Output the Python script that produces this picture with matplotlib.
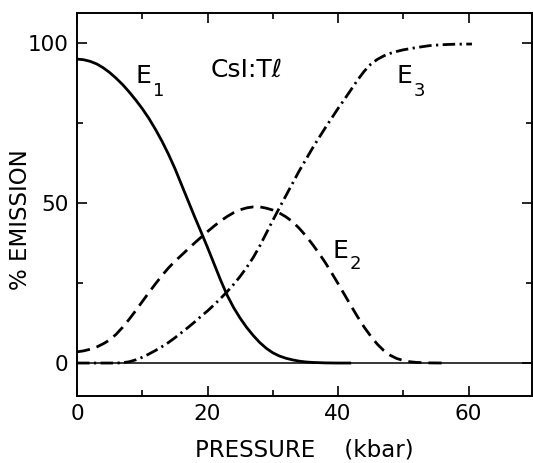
import matplotlib
matplotlib.use("Agg")
import matplotlib.pyplot as plt
from matplotlib.ticker import MultipleLocator

# Data (pressure in kbar, % emission)
p_e1 = [0, 1, 2, 3, 4, 5, 6, 7, 8, 9, 10, 11, 12, 13, 14, 15, 16, 17, 18, 19, 20,
        21, 22, 23, 24, 25, 26, 27, 28, 29, 30, 31, 32, 33, 34, 35, 36, 38, 40, 42]
e1 = [95, 94.8, 94.3, 93.5, 92.3, 90.8, 89, 87, 84.7, 82.2, 79.5, 76.5, 73.1, 69.4,
      65.3, 60.8, 55.8, 50.8, 45.8, 41, 36.1, 31, 25.9, 21.2, 17.3, 14.0, 11.1, 8.6,
      6.4, 4.6, 3.2, 2.2, 1.5, 1.0, 0.6, 0.35, 0.2, 0.05, 0, 0]

p_e2 = [0, 1, 2, 3, 4, 5, 6, 7, 8, 9, 10, 11, 12, 13, 14, 15, 16, 17, 18, 19, 20,
        21, 22, 23, 24, 25, 26, 27, 28, 29, 30, 31, 32, 33, 34, 35, 36, 37, 38, 39,
        40, 41, 42, 43, 44, 45, 46, 47, 48, 49, 50, 51, 52, 54, 56]
e2 = [3.5, 3.8, 4.3, 5, 6, 7.2, 9, 11.2, 13.7, 16.4, 19.2, 22.0, 24.7, 27.3, 29.7,
      31.8, 33.7, 35.6, 37.5, 39.3, 41.1, 42.8, 44.4, 45.8, 47, 47.9, 48.5, 48.8,
      48.8, 48.4, 47.8, 46.9, 45.7, 44.2, 42.2, 39.9, 37.3, 34.5, 31.5, 28.2, 24.8,
      21.3, 17.8, 14.4, 11.2, 8.4, 5.9, 3.9, 2.4, 1.4, 0.8, 0.4, 0.2, 0.05, 0]

p_e3 = [0, 2, 4, 6, 7, 8, 9, 10, 11, 12, 13, 14, 15, 16, 17, 18, 19, 20, 21, 22, 23,
        24, 25, 26, 27, 28, 29, 30, 31, 32, 33, 34, 35, 36, 37, 38, 39, 40, 41, 42,
        43, 44, 45, 46, 47, 48, 49, 50, 52, 54, 56, 58, 60.5]
e3 = [0, 0, 0, 0, 0.1, 0.4, 1, 1.8, 2.8, 3.9, 5.1, 6.4, 7.9, 9.5, 11.1, 12.8, 14.6,
      16.3, 18.2, 20.2, 22.3, 24.6, 27.1, 29.9, 33.0, 36.6, 40.6, 44.6, 48.5, 52.3,
      56.1, 59.9, 63.4, 66.9, 70.2, 73.4, 76.5, 79.6, 82.5, 85.5, 88.5, 91.2, 93.4,
      94.9, 96.0, 96.8, 97.4, 97.9, 98.6, 99.2, 99.5, 99.65, 99.7]

x_ticks = [0, 20, 40, 60]
y_ticks = [0, 50, 100]

plt.rcParams['lines.scale_dashes'] = False
plt.rcParams['font.family'] = ['DejaVu Sans']

fig = plt.figure(figsize=(5.33, 4.63), dpi=100)
ax = fig.add_axes([77 / 533, 1 - 396 / 463, 455 / 533, 383 / 463])

ax.axhline(0, color='black', lw=1.1, zorder=1)
ax.plot(p_e1, e1, color='black', lw=2.0, solid_capstyle='butt')
ax.plot(p_e2, e2, color='black', lw=2.0, dashes=(9.5, 5))
ax.plot(p_e3, e3, color='black', lw=2.0, dashes=(9, 3.2, 1.6, 3.2))

ax.set_xlim(0, 69.7)
ax.set_ylim(-10.3, 109.4)
ax.set_xticks(x_ticks)
ax.set_yticks(y_ticks)
ax.xaxis.set_minor_locator(MultipleLocator(10))
ax.yaxis.set_minor_locator(MultipleLocator(25))
ax.tick_params(which='both', direction='in', top=True, right=True, width=1.2,
               labelsize=15.5, pad=6)
ax.tick_params(which='major', length=7)
ax.tick_params(which='minor', length=4.5)
for s in ax.spines.values():
    s.set_linewidth(1.4)

ax.set_xlabel('PRESSURE    (kbar)', fontsize=16.5, labelpad=10)
ax.set_ylabel('% EMISSION', fontsize=16.5)
ax.yaxis.set_label_coords(-0.098, 0.46)

fs_main = 18
fs_sub = 13
ax.text(8.9, 87.5, 'E', fontsize=fs_main, ha='left', va='baseline')
ax.text(11.6, 83.5, '1', fontsize=fs_sub, ha='left', va='baseline')
ax.text(49.0, 87.5, 'E', fontsize=fs_main, ha='left', va='baseline')
ax.text(51.5, 83.5, '3', fontsize=fs_sub, ha='left', va='baseline')
ax.text(39.2, 32.8, 'E', fontsize=fs_main, ha='left', va='baseline')
ax.text(41.7, 29.5, '2', fontsize=fs_sub, ha='left', va='baseline')
ax.text(20.4, 89.4, 'CsI:T\u2113', fontsize=18, ha='left', va='baseline')

fig.savefig('out.png', dpi=100)
